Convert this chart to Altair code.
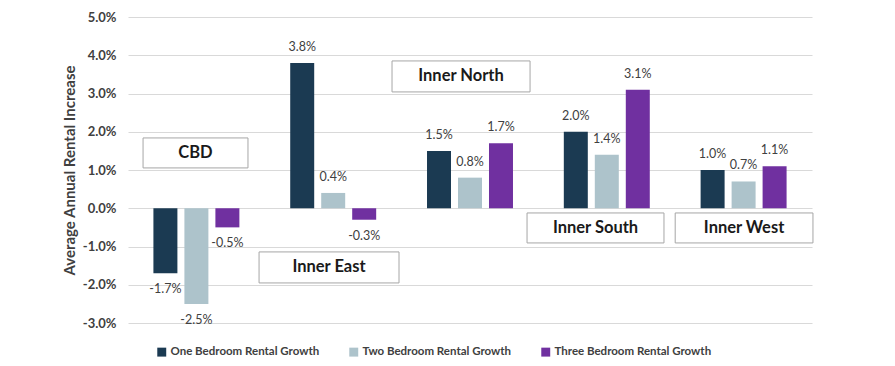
import altair as alt
import pandas as pd

regions = ["CBD", "Inner East", "Inner North", "Inner South", "Inner West"]
series = ["One Bedroom Rental Growth", "Two Bedroom Rental Growth", "Three Bedroom Rental Growth"]
one_bed = [-0.017, 0.038, 0.015, 0.020, 0.010]
two_bed = [-0.025, 0.004, 0.008, 0.014, 0.007]
three_bed = [-0.005, -0.003, 0.017, 0.031, 0.011]
y_ticks = [-0.03, -0.02, -0.01, 0.0, 0.01, 0.02, 0.03, 0.04, 0.05]
colors = ["#1b3a52", "#adc3cb", "#7030a0"]

# annotation boxes for region names (x in group units, y in value units)
box_x0 = [0.11, 0.958, 1.93, 2.917, 4.0]
box_x1 = [0.877, 1.981, 2.939, 3.918, 5.007]
box_y0 = [0.01054, -0.01953, 0.03041, -0.00907, -0.00907]
box_y1 = [0.01838, -0.01142, 0.03851, -0.00123, -0.00123]

rows = []
for i, r in enumerate(regions):
    for s, vals in zip(series, [one_bed, two_bed, three_bed]):
        rows.append({"region": r, "series": s, "value": vals[i]})
df = pd.DataFrame(rows)

boxes = pd.DataFrame({
    "region": regions, "x0": box_x0, "x1": box_x1, "y0": box_y0, "y1": box_y1,
})
boxes["xc"] = (boxes["x0"] + boxes["x1"]) / 2
boxes["yc"] = (boxes["y0"] + boxes["y1"]) / 2

FONT = "Lato"
yscale = alt.Scale(domain=[-0.03, 0.05], nice=False)
yaxis = alt.Axis(values=y_ticks,
                 labelExpr="replace(format(datum.value, '.1%'), '\u2212', '-')",
                 labelOverlap=False, tickCount=9,
                 title="Average Annual Rental Increase",
                 grid=True, gridColor="#d9d9d9", domain=False, ticks=False,
                 labelPadding=12, labelFont=FONT, labelFontSize=13,
                 labelFontWeight="bold", labelColor="#404040",
                 titleFont=FONT, titleFontSize=15, titleFontWeight="bold",
                 titleColor="#404040", titleX=-59, titleY=153,
                 titleAlign="center", titleBaseline="middle", titleAngle=-90)

x_enc = alt.X("region:N", sort=regions, axis=None,
              scale=alt.Scale(domain=regions, paddingInner=0, paddingOuter=0))
xoff_enc = alt.XOffset("series:N", sort=series,
                       scale=alt.Scale(domain=series, paddingInner=0.226, paddingOuter=0.82))

base = alt.Chart(df).transform_calculate(
    label="replace(format(datum.value, '.1%'), '\u2212', '-')"
)

bars = base.mark_bar().encode(
    x=x_enc,
    xOffset=xoff_enc,
    y=alt.Y("value:Q", scale=yscale, axis=yaxis, title="Average Annual Rental Increase"),
    color=alt.Color("series:N", sort=series,
                    scale=alt.Scale(domain=series, range=colors),
                    legend=alt.Legend(title=None, orient="none", direction="horizontal",
                                      legendX=28, legendY=329, symbolType="square",
                                      symbolSize=80, symbolStrokeWidth=0,
                                      labelFont=FONT, labelFontSize=11.5,
                                      labelFontWeight="bold", labelColor="#404040",
                                      labelLimit=400,
                                      columnPadding=28, labelOffset=3, padding=0)),
)

pos_labels = base.transform_filter("datum.value >= 0").mark_text(
    dy=-16, font=FONT, fontSize=12.5, color="#404040", baseline="middle"
).encode(x=x_enc, xOffset=xoff_enc,
         y=alt.Y("value:Q", scale=yscale, axis=yaxis, title="Average Annual Rental Increase"),
         text="label:N")

neg_labels = base.transform_filter("datum.value < 0").mark_text(
    dy=16, font=FONT, fontSize=12.5, color="#404040", baseline="middle"
).encode(x=x_enc, xOffset=xoff_enc,
         y=alt.Y("value:Q", scale=yscale, axis=yaxis, title="Average Annual Rental Increase"),
         text="label:N")

bxscale = alt.Scale(domain=[0, 5], nice=False, zero=False)
box_rect = alt.Chart(boxes).mark_rect(fill="white", stroke="#a6a6a6", strokeWidth=1).encode(
    x=alt.X("x0:Q", scale=bxscale, axis=None),
    x2="x1:Q",
    y=alt.Y("y0:Q", scale=yscale, axis=yaxis, title="Average Annual Rental Increase"),
    y2="y1:Q",
)
box_text = alt.Chart(boxes).mark_text(
    font=FONT, fontSize=16.5, fontWeight="bold", color="#1a1a1a", baseline="middle"
).encode(
    x=alt.X("xc:Q", scale=bxscale, axis=None),
    y=alt.Y("yc:Q", scale=yscale, axis=yaxis, title="Average Annual Rental Increase"),
    text="region:N",
)

main = alt.layer(bars, pos_labels, neg_labels)
ann = alt.layer(box_rect, box_text)

chart = alt.layer(main, ann).resolve_scale(x="independent").properties(
    width=684, height=306,
    autosize=alt.AutoSizeParams(type="none"),
    padding={"left": 120, "top": 9, "right": 75, "bottom": 35},
).configure_view(stroke=None)

chart.save("out.html", embed_options={"renderer": "svg", "actions": False})
